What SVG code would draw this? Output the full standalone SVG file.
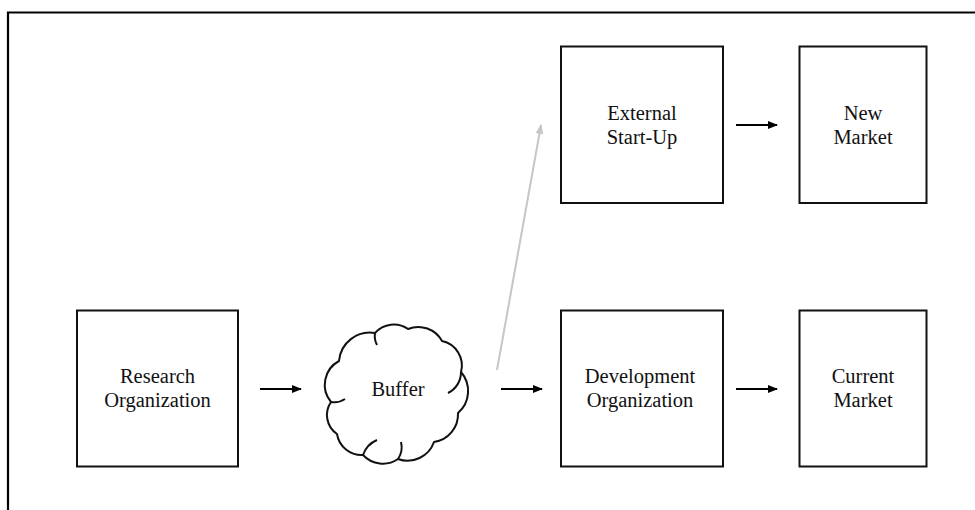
<svg xmlns="http://www.w3.org/2000/svg" width="975" height="510" viewBox="0 0 975 510">
<defs>
<style>
.box{fill:#fff;stroke:#111;stroke-width:2}
.lbl{font-family:"Liberation Serif","Times New Roman",serif;font-size:20.5px;fill:#111;text-anchor:middle}
.conn{stroke:#000;stroke-width:2;fill:none}
.grey{stroke:#c6c6c6;stroke-width:2;fill:none}
.cloud{fill:#fff;stroke:#111;stroke-width:2;stroke-linejoin:round}
.curl{fill:none;stroke:#111;stroke-width:2}
</style>
<marker id="ah" viewBox="0 0 10 10" refX="9" refY="5" markerWidth="5" markerHeight="5" orient="auto" markerUnits="strokeWidth">
<path d="M0,1 L10,5 L0,9 Z" fill="#000"/>
</marker>
<marker id="ahg" viewBox="0 0 10 10" refX="9" refY="5" markerWidth="5" markerHeight="5" orient="auto" markerUnits="strokeWidth">
<path d="M0,1 L10,5 L0,9 Z" fill="#c6c6c6"/>
</marker>
</defs>
<rect width="975" height="510" fill="#fff"/>
<g id="frame">
<path d="M8,510 V12.5 H975" fill="none" stroke="#000" stroke-width="2.2"/>
</g>
<g id="research">
<rect class="box" x="77" y="310.5" width="161" height="156"/>
<text class="lbl" x="157.5" y="383">Research</text>
<text class="lbl" x="157.5" y="407">Organization</text>
</g>
<g id="buffer">
<path class="cloud" d="M331,402 A27,27 0 0 1 339,361 A31,31 0 0 1 375,333 A25,25 0 0 1 408,329 A27,27 0 0 1 442,341 A25,25 0 0 1 461,372 A29,29 0 0 1 458,413 A28,28 0 0 1 434,442 A28,28 0 0 1 398,459 A27,27 0 0 1 363,455 A25,25 0 0 1 337,434 A23,23 0 0 1 331,402 Z"/>
<path class="curl" d="M331,402 A19,19 0 0 0 345,399"/>
<path class="curl" d="M461,372 A23,23 0 0 1 448,393"/>
<path class="curl" d="M363,455 A25,25 0 0 1 377,440"/>
<path class="curl" d="M398,459 A21,21 0 0 0 401,442"/>
<path class="curl" d="M375,333 A19,19 0 0 0 377,345"/>
<text class="lbl" x="398" y="396">Buffer</text>
</g>
<g id="external">
<rect class="box" x="561" y="46.5" width="162" height="156.5"/>
<text class="lbl" x="642" y="120">External</text>
<text class="lbl" x="642" y="144">Start-Up</text>
</g>
<g id="newmarket">
<rect class="box" x="799.5" y="46.5" width="127" height="156.5"/>
<text class="lbl" x="863" y="120">New</text>
<text class="lbl" x="863" y="144">Market</text>
</g>
<g id="development">
<rect class="box" x="561" y="310.5" width="162" height="156"/>
<text class="lbl" x="640" y="383">Development</text>
<text class="lbl" x="640" y="407">Organization</text>
</g>
<g id="currentmarket">
<rect class="box" x="799.5" y="310.5" width="127" height="156"/>
<text class="lbl" x="863" y="383">Current</text>
<text class="lbl" x="863" y="407">Market</text>
</g>
<g id="connectors">
<line class="conn" x1="260" y1="389" x2="301" y2="389" marker-end="url(#ah)"/>
<line class="conn" x1="501" y1="389" x2="542" y2="389" marker-end="url(#ah)"/>
<line class="conn" x1="736" y1="125" x2="777" y2="125" marker-end="url(#ah)"/>
<line class="conn" x1="736" y1="389" x2="777" y2="389" marker-end="url(#ah)"/>
<line class="grey" x1="497" y1="370" x2="541" y2="125" marker-end="url(#ahg)"/>
</g>
</svg>
